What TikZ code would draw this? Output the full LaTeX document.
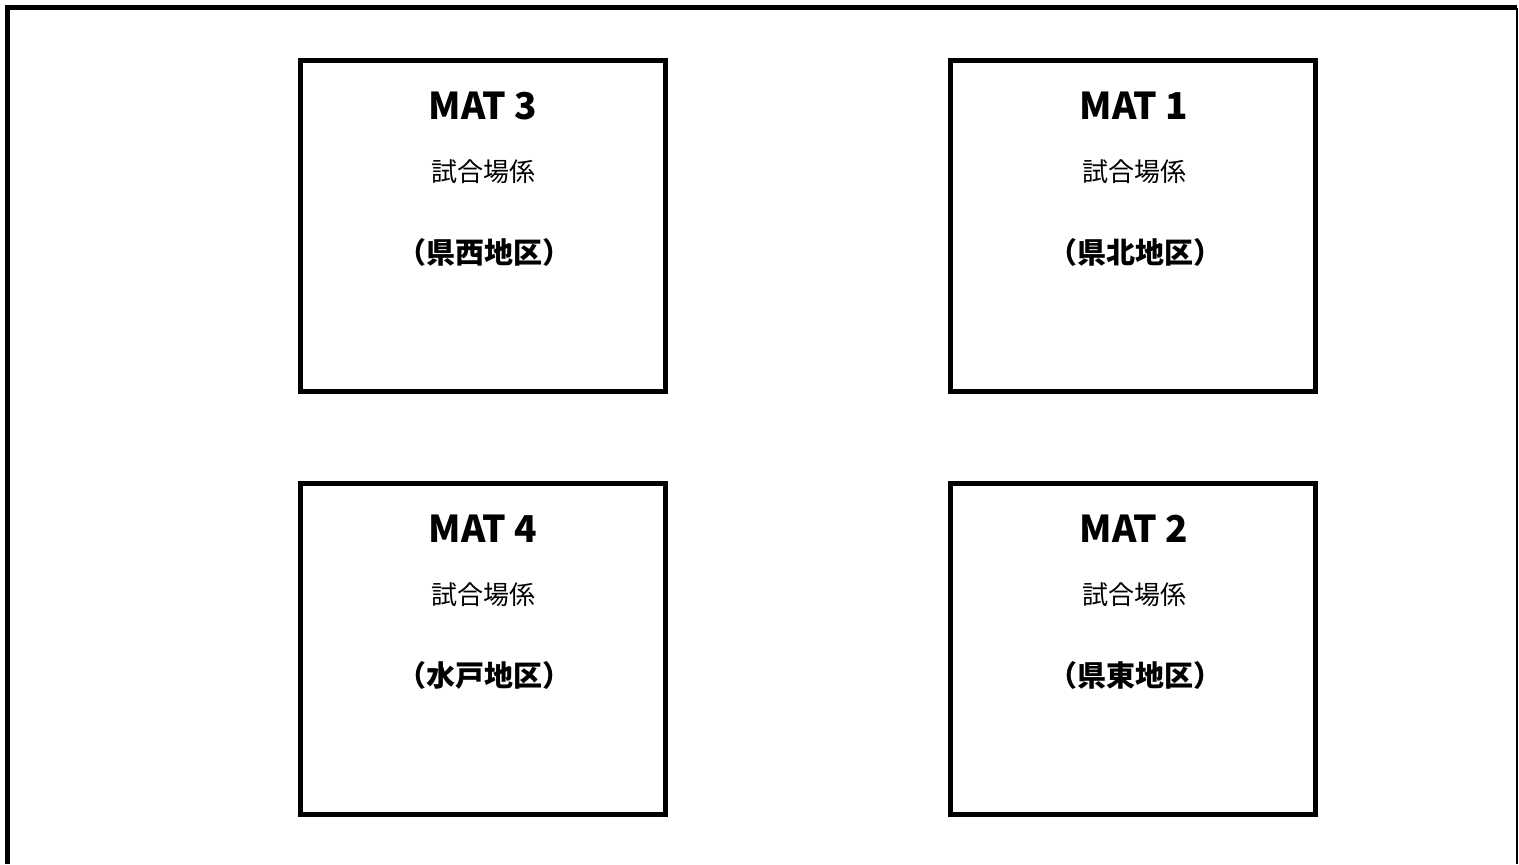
\documentclass[tikz,border=0pt]{standalone}
\usepackage{fontspec}
\setmainfont{Noto Sans CJK JP}

\begin{document}
\begin{tikzpicture}[
    x=0.5pt, y=-0.5pt,
    matbox/.style={rectangle, draw=black, line width=2.5pt,
        minimum width=182.5pt, minimum height=165.5pt, inner sep=0pt},
    title/.style={font=\fontsize{18.5}{21}\selectfont\bfseries},
    staff/.style={font=\fontsize{13}{15}\selectfont},
    area/.style={font=\fontsize{14.5}{17}\selectfont\bfseries}
]
    \useasboundingbox (0,0) rectangle (1519,864);
    % outer frame
    \draw[line width=2.5pt] (7.5,864) -- (7.5,7.5) -- (1517,7.5);
    \draw[line width=1pt] (1517,7.5) -- (1517,864);
    % mats
    \node[matbox] (mat3) at (482.5,225.5) {};
    \node[matbox] (mat1) at (1133,225.5) {};
    \node[matbox] (mat4) at (482.5,649) {};
    \node[matbox] (mat2) at (1133,649) {};
    \node[title] (mat3t) at (483,106) {MAT 3};
    \node[staff] (mat3s) at (483,172) {試合場係};
    \node[area]  (mat3a) at (484,252) {（県西地区）};
    \node[title] (mat1t) at (1134,106) {MAT 1};
    \node[staff] (mat1s) at (1134,172) {試合場係};
    \node[area]  (mat1a) at (1135,252) {（県北地区）};
    \node[title] (mat4t) at (483,529) {MAT 4};
    \node[staff] (mat4s) at (483,595) {試合場係};
    \node[area]  (mat4a) at (484,675) {（水戸地区）};
    \node[title] (mat2t) at (1134,529) {MAT 2};
    \node[staff] (mat2s) at (1134,595) {試合場係};
    \node[area]  (mat2a) at (1135,675) {（県東地区）};
\end{tikzpicture}
\end{document}
